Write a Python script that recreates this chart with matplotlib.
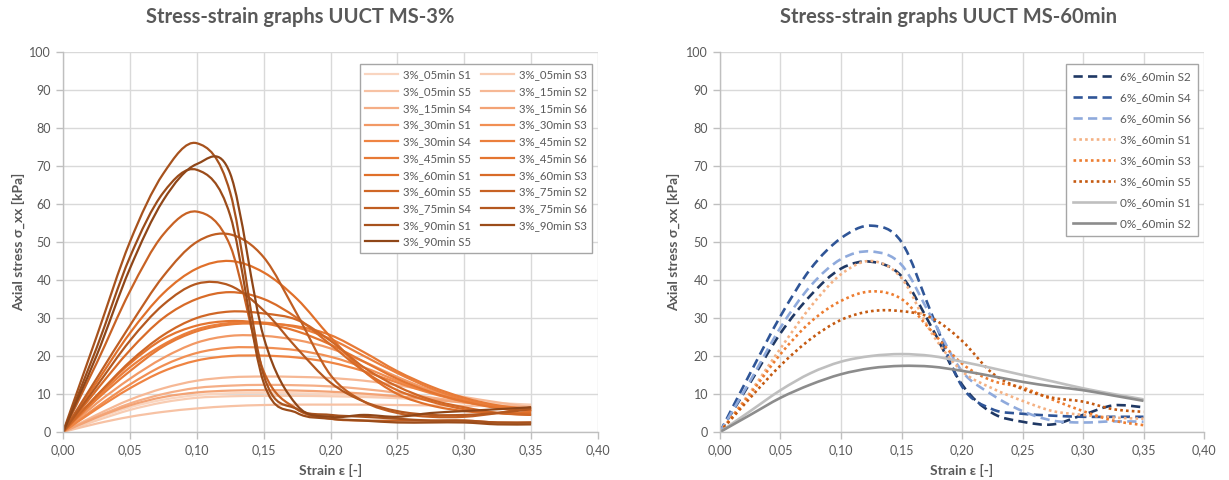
import matplotlib
matplotlib.use("Agg")
import matplotlib.pyplot as plt
import numpy as np
from matplotlib.path import Path
from matplotlib.patches import PathPatch
from matplotlib.lines import Line2D
from matplotlib.colors import LinearSegmentedColormap
from matplotlib.ticker import FuncFormatter

plt.rcParams['font.family'] = ['Lato', 'DejaVu Sans']

# strain steps shared by every series
strain = [0, .025, .05, .075, .1, .125, .15, .175, .2, .225, .25, .275, .3, .325, .35]

# --- left chart: 3% mixtures, curing time series ---
labels_3 = ['3%_05min S1', '3%_05min S3', '3%_05min S5',
            '3%_15min S2', '3%_15min S4', '3%_15min S6',
            '3%_30min S1', '3%_30min S3', '3%_30min S4',
            '3%_45min S2', '3%_45min S5', '3%_45min S6',
            '3%_60min S1', '3%_60min S3', '3%_60min S5',
            '3%_75min S2', '3%_75min S4', '3%_75min S6',
            '3%_90min S1', '3%_90min S3', '3%_90min S5']
s05_S1 = [0, 3.5, 6.5, 8.5, 9.7, 10.2, 10.3, 10.2, 10, 9.6, 9.1, 8.5, 7.9, 7.3, 6.8]
s05_S3 = [0, 3, 5.8, 7.8, 9, 9.4, 9.5, 9.5, 9.4, 9.2, 8.9, 8.5, 8, 7.6, 7.2]
s05_S5 = [0, 2.2, 4, 5.3, 6.2, 6.8, 7.1, 7.2, 7.2, 7.2, 7.1, 7, 6.9, 6.8, 6.7]
s15_S2 = [0, 4.5, 8.5, 11.5, 13.5, 14.4, 14.6, 14.5, 14.2, 13.5, 12.3, 10.8, 9.2, 7.8, 6.5]
s15_S4 = [0, 4, 7.5, 10, 11.6, 12.2, 12.4, 12.3, 12, 11.3, 10.3, 9.1, 7.9, 6.8, 6]
s15_S6 = [0, 3.8, 7, 9.2, 10.4, 10.9, 11, 10.9, 10.6, 10.1, 9.4, 8.6, 7.7, 6.9, 6.2]
s30_S1 = [0, 7.5, 14, 19.5, 23.5, 25.3, 25.3, 24.2, 22, 18.5, 14.5, 11, 8.5, 6.8, 5.8]
s30_S3 = [0, 6.5, 12.5, 17.5, 20.8, 22.2, 22.2, 21.5, 19.8, 17, 13.5, 10.5, 8.2, 6.6, 5.5]
s30_S4 = [0, 6, 11.5, 16, 18.8, 20, 20.1, 19.6, 18.3, 16, 13, 10.2, 8, 6.5, 5.5]
s45_S2 = [0, 9, 17, 23, 27, 28.7, 28.8, 27.5, 24.5, 20, 15.5, 11.5, 8.5, 6.5, 5.5]
s45_S5 = [0, 8.5, 16, 22.5, 26.5, 28.3, 28.5, 27.8, 25.5, 21, 16, 12, 9, 7, 6]
s45_S6 = [0, 9.5, 18, 24.5, 28, 29.2, 28.6, 26.5, 23, 18.5, 14, 10.5, 8, 6.3, 5.5]
s60_S1 = [0, 13, 26, 36.5, 43, 45, 42, 35, 25, 16, 10, 7, 5.5, 5, 5]
s60_S3 = [0, 11, 21.5, 30, 35, 36.8, 35, 30, 23, 16, 11, 8, 6, 5, 4.5]
s60_S5 = [0, 9.5, 18.5, 25.5, 30, 31.7, 31.2, 29.5, 24, 17, 12, 8.5, 6.5, 5, 4.5]
s75_S2 = [0, 18, 37, 52, 58, 49, 16, 6, 3.5, 3, 3, 3, 3, 2.5, 2.5]
s75_S4 = [0, 14, 28, 41, 50, 52, 46, 31, 15, 8, 5, 4, 4, 5, 6.5]
s75_S6 = [0, 12, 24, 33.5, 39, 38.5, 32, 22, 13, 8, 5.5, 4.5, 4.5, 5, 6]
s90_S1 = [0, 25, 50, 68, 76, 63, 15, 6, 4.5, 4, 3.5, 3, 3, 2.5, 2.5]
s90_S3 = [0, 22, 46, 63, 69, 57, 13, 5, 3.5, 3, 2.5, 2.5, 2.5, 2, 2]
s90_S5 = [0, 20, 43, 61, 70.5, 68, 25, 7, 4, 4.5, 4, 5, 5.5, 6, 6.5]
series_3 = [s05_S1, s05_S3, s05_S5, s15_S2, s15_S4, s15_S6, s30_S1, s30_S3, s30_S4,
            s45_S2, s45_S5, s45_S6, s60_S1, s60_S3, s60_S5, s75_S2, s75_S4, s75_S6,
            s90_S1, s90_S3, s90_S5]

# --- right chart: 60 min curing, different contents ---
labels_60 = ['6%_60min S2', '6%_60min S4', '6%_60min S6',
             '3%_60min S1', '3%_60min S3', '3%_60min S5',
             '0%_60min S1', '0%_60min S2']
p6_S2 = [0, 13, 26, 36, 43, 44.8, 41, 27.5, 12.5, 5, 2.7, 2.0, 4.5, 7, 6.5]
p6_S4 = [0, 15.5, 30.5, 43, 51, 54.3, 50, 31, 12, 6, 4.8, 4.3, 4, 4, 4]
p6_S6 = [0, 13.5, 27.5, 38.5, 45.5, 47.5, 44, 30, 16, 9.8, 5.5, 3, 2.5, 2.8, 2.7]
p3_S1 = [0, 10.5, 22, 33, 41.5, 45, 40.5, 26, 16, 11.5, 8.2, 5.5, 4.5, 3.8, 3.5]
p3_S3 = [0, 10, 20.5, 29, 34.5, 37, 35, 26.5, 18, 13.5, 11.7, 8.5, 5.5, 3, 1.8]
p3_S5 = [0, 9, 17.5, 24.5, 29.5, 31.8, 31.8, 30, 24, 15.5, 11.3, 9, 8, 6, 5.3]
p0_S1 = [0, 5.5, 11, 15.5, 18.5, 20, 20.5, 20, 18.5, 16.8, 15, 13.3, 11.5, 10, 8.6]
p0_S2 = [0, 4.5, 9, 12.5, 15.2, 16.8, 17.4, 17.2, 16.1, 14.7, 13.2, 12, 11, 9.6, 8.2]
series_60 = [p6_S2, p6_S4, p6_S6, p3_S1, p3_S3, p3_S5, p0_S1, p0_S2]

GREY = '#595959'
GRID = '#d9d9d9'
AXLINE = '#bfbfbf'


def smooth_line(ax, x, y, **kw):
    # Excel-like smoothed line: Catmull-Rom through the data, drawn as Bezier
    x = np.asarray(x, float)
    y = np.asarray(y, float)
    p = np.column_stack([x, y])
    pad = np.vstack([p[0], p, p[-1]])
    verts = [p[0]]
    codes = [Path.MOVETO]
    for i in range(len(p) - 1):
        p0, p1, p2, p3 = pad[i], pad[i + 1], pad[i + 2], pad[i + 3]
        verts += [p1 + (p2 - p0) / 6, p2 - (p3 - p1) / 6, p2]
        codes += [Path.CURVE4] * 3
    patch = PathPatch(Path(verts, codes), fill=False, transform=ax.transData, **kw)
    ax.add_patch(patch)
    return Line2D([], [], color=kw.get('edgecolor'), lw=kw.get('lw'),
                  linestyle=kw.get('linestyle', '-'))


def style_axes(ax):
    ax.set_xlim(0, 0.4)
    ax.set_ylim(0, 100)
    ax.set_xticks(np.arange(0, 0.401, 0.05))
    ax.set_yticks(np.arange(0, 101, 10))
    ax.xaxis.set_major_formatter(FuncFormatter(lambda v, _: f'{v:.2f}'.replace('.', ',')))
    ax.grid(True, color=GRID, lw=1)
    ax.set_axisbelow(True)
    for s in ['top', 'right']:
        ax.spines[s].set_visible(False)
    for s in ['left', 'bottom']:
        ax.spines[s].set_color(AXLINE)
        ax.spines[s].set_linewidth(1)
    ax.tick_params(colors=AXLINE, labelcolor=GREY, labelsize=9, length=5, width=1)
    ax.set_xlabel('Strain ε [-]', fontsize=10, fontweight='bold', color=GREY)
    ax.set_ylabel('Axial stress σ_xx [kPa]', fontsize=10, fontweight='bold', color=GREY)


fig = plt.figure(figsize=(12.29, 4.8), dpi=100)
ax1 = fig.add_axes([63 / 1229, 48 / 480, 535 / 1229, 380 / 480])
ax2 = fig.add_axes([720 / 1229, 48 / 480, 484 / 1229, 380 / 480])

# left
cmap = LinearSegmentedColormap.from_list('c', ['#f9d5c0', '#f5ae86', '#ef8442', '#e0702a', '#c05e22', '#8f4618'])
handles1 = []
for i, y in enumerate(series_3):
    c = cmap(i / (len(series_3) - 1))
    handles1.append(smooth_line(ax1, strain, y, edgecolor=c, lw=1.6))
style_axes(ax1)
ax1.xaxis.set_label_coords(0.5, -0.083)
ax1.yaxis.set_label_coords(-0.07, 0.5)
order = list(range(0, 21, 2)) + list(range(1, 21, 2))
leg1 = ax1.legend([handles1[k] for k in order], [labels_3[k] for k in order], ncol=2,
                  loc='upper right', bbox_to_anchor=(1.0, 0.984), fontsize=8.2,
                  handlelength=2.9, labelspacing=0.5, columnspacing=0.9,
                  handletextpad=0.4, fancybox=False, framealpha=1, edgecolor='#a6a6a6',
                  borderpad=0.5)
for t in leg1.get_texts():
    t.set_color(GREY)

# right
colors_60 = ['#1f3864', '#2f5597', '#8faadc', '#f4b183', '#ed7d31', '#c55a11', '#bfbfbf', '#8c8c8c']
styles_60 = [(0, (3.5, 2))] * 3 + [(0, (1, 1.2))] * 3 + ['-'] * 2
handles2 = []
for y, c, ls in zip(series_60, colors_60, styles_60):
    handles2.append(smooth_line(ax2, strain, y, edgecolor=c, lw=1.9, linestyle=ls))
style_axes(ax2)
ax2.xaxis.set_label_coords(0.5, -0.083)
ax2.yaxis.set_label_coords(-0.083, 0.5)
leg2 = ax2.legend(handles2, labels_60, loc='upper right', bbox_to_anchor=(1.0, 0.984),
                  fontsize=8.5, handlelength=3.6, labelspacing=0.85, handletextpad=0.4,
                  fancybox=False, framealpha=1, edgecolor='#a6a6a6', borderpad=0.6)
for t in leg2.get_texts():
    t.set_color(GREY)

fig.text(300 / 1229, 1 - 17 / 480, 'Stress-strain graphs UUCT MS-3%', ha='center', va='center',
         fontsize=14.5, fontweight='bold', color=GREY)
fig.text(948 / 1229, 1 - 17 / 480, 'Stress-strain graphs UUCT MS-60min', ha='center', va='center',
         fontsize=14.5, fontweight='bold', color=GREY)

fig.savefig('out.png', dpi=100)
plt.close()
